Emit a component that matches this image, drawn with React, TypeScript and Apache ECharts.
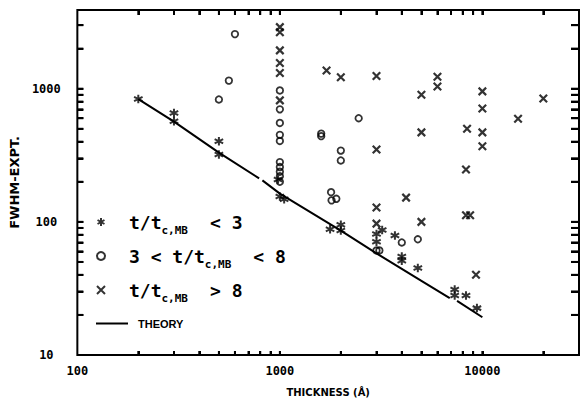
import React, { useEffect, useRef } from 'react';
import * as echarts from 'echarts';

// ---- data (thickness in Å, FWHM) ----
const lowRatioPoints: [number, number][] = [
  [200, 837], [300, 657], [300, 569], [500, 403], [500, 320],
  [980, 208], [1000, 155], [1050, 148], [1770, 88], [2000, 95], [2000, 86],
  [3000, 81], [3000, 71], [3200, 87], [3700, 79], [4000, 55], [4000, 51],
  [4800, 45], [7300, 31], [7300, 28], [8300, 28], [9400, 22.5],
];

const midRatioPoints: [number, number][] = [
  [500, 830], [560, 1150], [600, 2570],
  [1000, 970], [1000, 700], [1000, 553], [1000, 450], [1000, 405],
  [1000, 281], [1000, 258], [1000, 238], [1000, 220], [1000, 200],
  [1600, 460], [1600, 440], [1790, 167], [1800, 145], [1900, 149],
  [2000, 343], [2000, 289], [2450, 600], [3000, 61], [3100, 61],
  [4000, 70], [4800, 74],
];

const highRatioPoints: [number, number][] = [
  [1000, 2900], [1000, 2650], [1000, 1940], [1000, 1560], [1000, 1310], [1000, 817],
  [1700, 1370], [2000, 1220], [3000, 1245], [3000, 350], [3000, 128], [3000, 97],
  [4200, 152], [5000, 900], [5000, 470], [5000, 100], [6000, 1230], [6000, 1040],
  [8300, 247], [8300, 112], [8700, 112], [8400, 500], [9300, 40],
  [10000, 955], [10000, 710], [10000, 470], [10000, 370], [15000, 595], [20000, 845],
];

// '-' marks a break in the drawn theory curve
const theoryPoints: (number | string)[][] = [
  [200, 834], [300, 566], [500, 331], [790, 212], [805, '-'],
  [820, 205], [1000, 163], [2000, 86], [3000, 58], [5000, 36], [6900, 26.7],
  [7200, '-'], [7500, 25.5], [10000, 19.2],
];

const xTickValues = [200, 300, 400, 500, 600, 700, 800, 900, 1000,
  2000, 3000, 4000, 5000, 6000, 7000, 8000, 9000, 10000, 20000];
const yTickValues = [20, 30, 40, 50, 60, 70, 80, 90, 100,
  200, 300, 400, 500, 600, 700, 800, 900, 1000, 2000, 3000];
const xLabelValues = [100, 1000, 10000];
const yLabelValues = [10, 100, 1000];

const X_MIN = 100;
const X_MAX = 30000;
const Y_MIN = 10;
const Y_MAX = 3900;

const S1 = 't/tc,MB < 3';
const S2 = '3 < t/tc,MB < 8';
const S3 = 't/tc,MB > 8';
const S4 = 'THEORY';

const ASTERISK = 'path://M5 0L5 10M0.67 2.5L9.33 7.5M0.67 7.5L9.33 2.5';
const CROSS = 'path://M0 0L10 10M0 10L10 0';

const legendText: Record<string, string> = {
  [S1]: '{f|t/t}{s|c,MB}{g|< 3}',
  [S2]: '{f|3 < t/t}{s|c,MB}{g|< 8}',
  [S3]: '{f|t/t}{s|c,MB}{g|> 8}',
};

const MONO = 'DejaVu Sans Mono';
const INK = '#000';

function tickStyle(len: number, values: number[]) {
  return { show: true, inside: true, length: len, customValues: values, lineStyle: { color: INK, width: 2 } };
}

function tickAxis(min: number, max: number, position: string, len: number, values: number[]) {
  return {
    type: 'log', min, max, position,
    axisLine: { show: false },
    splitLine: { show: false },
    axisLabel: { show: false },
    axisTick: tickStyle(len, values),
  };
}

export default function App() {
  const ref = useRef<HTMLDivElement>(null);
  useEffect(() => {
    document.body.style.margin = '0';
    const chart = echarts.init(ref.current!, undefined, { renderer: 'svg' });
    const mainText = { fontFamily: MONO, fontWeight: 'bold', fontSize: 18, color: '#000' };
    chart.setOption({
      animation: false,
      backgroundColor: '#fff',
      grid: { left: 76, top: 10, right: -2, bottom: 46, show: true, borderColor: '#000', borderWidth: 2 },
      xAxis: [
        {
          type: 'log', min: X_MIN, max: X_MAX,
          axisLine: { show: false }, splitLine: { show: false },
          axisTick: tickStyle(4, xTickValues),
          axisLabel: {
            margin: 10, fontFamily: MONO, fontWeight: 'bold', fontSize: 12, color: '#000',
            formatter: (v: number) => (xLabelValues.includes(Math.round(v)) ? String(Math.round(v)) : ''),
          },
          name: 'THICKNESS (Å)', nameLocation: 'middle', nameGap: 32,
          nameTextStyle: { fontFamily: 'DejaVu Sans', fontWeight: 'bold', fontSize: 10, color: '#000' },
        },
        tickAxis(X_MIN, X_MAX, 'top', 5, xTickValues),
      ],
      yAxis: [
        {
          type: 'log', min: Y_MIN, max: Y_MAX,
          axisLine: { show: false }, splitLine: { show: false },
          axisTick: tickStyle(6, yTickValues),
          axisLabel: {
            margin: 31, align: 'center', fontFamily: MONO, fontWeight: 'bold', fontSize: 12, color: '#000',
            formatter: (v: number) => (yLabelValues.includes(Math.round(v)) ? String(Math.round(v)) : ''),
          },
          name: 'FWHM-EXPT.', nameLocation: 'middle', nameGap: 45, nameRotate: 90,
          nameTextStyle: { fontFamily: 'DejaVu Sans', fontWeight: 'bold', fontSize: 13, color: '#000' },
        },
        tickAxis(Y_MIN, Y_MAX, 'right', 8, yTickValues),
      ],
      legend: [
        {
          data: [S1, S2, S3], orient: 'vertical', left: 96, top: 213, padding: 0,
          itemWidth: 8, itemHeight: 8, itemGap: 11, selectedMode: false,
          formatter: (n: string) => legendText[n],
          textStyle: {
            rich: {
              f: { ...mainText, padding: [0, 0, 0, 19] },
              s: { fontFamily: MONO, fontWeight: 'bold', fontSize: 11, color: '#000', padding: [17, 0, 0, 0] },
              g: { ...mainText, padding: [0, 0, 0, 22] },
            },
          },
        },
        {
          data: [S4], left: 95, top: 318, padding: 0,
          itemWidth: 32, itemHeight: 10, selectedMode: false,
          itemStyle: { opacity: 0 },
          formatter: '{t|THEORY}',
          textStyle: {
            rich: {
              t: { fontFamily: 'Liberation Sans', fontWeight: 'bold', fontSize: 11, color: '#000', padding: [0, 0, 0, 5] },
            },
          },
        },
      ],
      series: [
        {
          name: S1, type: 'scatter', data: lowRatioPoints, symbol: ASTERISK, symbolSize: 8.5, z: 3,
          itemStyle: { color: 'rgba(0,0,0,0)', borderColor: '#000', borderWidth: 2 },
        },
        {
          name: S2, type: 'scatter', data: midRatioPoints, symbol: 'circle', symbolSize: 6.5, z: 3,
          itemStyle: { color: 'rgba(0,0,0,0)', borderColor: '#000', borderWidth: 1.8 },
        },
        {
          name: S3, type: 'scatter', data: highRatioPoints, symbol: CROSS, symbolSize: 7.5, z: 3,
          itemStyle: { color: 'rgba(0,0,0,0)', borderColor: '#000', borderWidth: 2.2 },
        },
        {
          name: S4, type: 'line', data: theoryPoints, symbol: 'none', z: 2,
          lineStyle: { color: '#000', width: 2 }, itemStyle: { color: '#000' },
        },
      ],
    });

    // Tick marks placed through the chart's own log scales (convertToPixel).
    try {
      const toPx = (x: number, y: number) => chart.convertToPixel({ gridIndex: 0 }, [x, y]) as number[];
      const bl = toPx(X_MIN, Y_MIN);
      const tr = toPx(X_MAX, Y_MAX);
      const style = { stroke: INK, lineWidth: 2 };
      const elements: any[] = [];
      xTickValues.forEach((v) => {
        const x = toPx(v, Y_MIN)[0];
        elements.push({ type: 'line', z: 100, silent: true, shape: { x1: x, y1: bl[1], x2: x, y2: bl[1] - 4 }, style });
        elements.push({ type: 'line', z: 100, silent: true, shape: { x1: x, y1: tr[1], x2: x, y2: tr[1] + 5 }, style });
      });
      yTickValues.forEach((v) => {
        const y = toPx(X_MIN, v)[1];
        elements.push({ type: 'line', z: 100, silent: true, shape: { x1: bl[0], y1: y, x2: bl[0] + 6, y2: y }, style });
        elements.push({ type: 'line', z: 100, silent: true, shape: { x1: tr[0], y1: y, x2: tr[0] - 8, y2: y }, style });
      });
      chart.setOption({ graphic: { elements } });
    } catch (e) {
      // ignore
    }
    return () => chart.dispose();
  }, []);
  return <div ref={ref} style={{ width: 582, height: 402, background: '#fff' }} />;
}
